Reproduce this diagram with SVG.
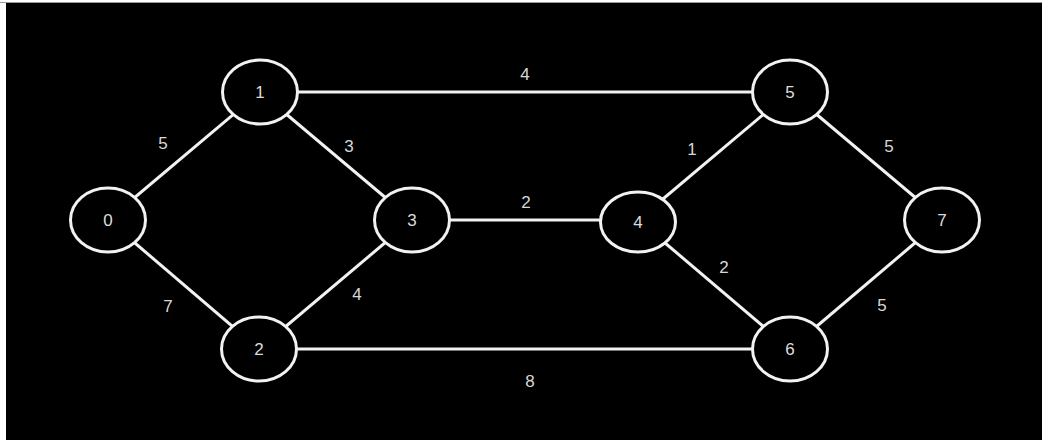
<svg xmlns="http://www.w3.org/2000/svg" width="1042" height="440" viewBox="0 0 1042 440">
<style>
.edge{stroke:#f2f2f2;stroke-width:3;fill:none}
.node ellipse{fill:#000;stroke:#f2f2f2;stroke-width:3}
.node text{fill:#dcdcdc;font-family:"Liberation Sans",Arial,sans-serif;font-size:17px;text-anchor:middle;dominant-baseline:central}
.w{fill:#d8d8d8;font-family:"Liberation Sans",Arial,sans-serif;font-size:17px;text-anchor:middle;dominant-baseline:central}
</style>
<rect x="0" y="0" width="1042" height="440" fill="#fff"/>
<rect x="0" y="2" width="1042" height="1" fill="#9a9a9a"/>
<rect x="6" y="3" width="1036" height="437" fill="#000"/>
<g id="edges">
<line class="edge" x1="108" y1="220" x2="260" y2="92"/>
<line class="edge" x1="108" y1="220" x2="259" y2="349"/>
<line class="edge" x1="260" y1="92" x2="412" y2="220"/>
<line class="edge" x1="259" y1="349" x2="412" y2="220"/>
<line class="edge" x1="260" y1="92" x2="790" y2="92"/>
<line class="edge" x1="259" y1="349" x2="790" y2="349"/>
<line class="edge" x1="412" y1="220" x2="638" y2="220"/>
<line class="edge" x1="638" y1="220" x2="790" y2="92"/>
<line class="edge" x1="638" y1="220" x2="790" y2="349"/>
<line class="edge" x1="790" y1="92" x2="942" y2="220"/>
<line class="edge" x1="790" y1="349" x2="942" y2="220"/>
<text class="w" x="163" y="143">5</text>
<text class="w" x="168" y="306">7</text>
<text class="w" x="349" y="146">3</text>
<text class="w" x="357" y="294">4</text>
<text class="w" x="525" y="74">4</text>
<text class="w" x="526" y="202">2</text>
<text class="w" x="530" y="381">8</text>
<text class="w" x="692" y="149">1</text>
<text class="w" x="724" y="267">2</text>
<text class="w" x="889" y="146">5</text>
<text class="w" x="882" y="305">5</text>
</g>
<g id="n0" class="node"><ellipse cx="108" cy="220" rx="37.5" ry="32"/><text x="108" y="220">0</text></g>
<g id="n1" class="node"><ellipse cx="260" cy="92" rx="37.5" ry="32"/><text x="260" y="92">1</text></g>
<g id="n2" class="node"><ellipse cx="259" cy="349" rx="37.5" ry="32"/><text x="259" y="349">2</text></g>
<g id="n3" class="node"><ellipse cx="412" cy="220" rx="37.5" ry="32"/><text x="412" y="220">3</text></g>
<g id="n4" class="node"><ellipse cx="638" cy="222" rx="37.5" ry="30"/><text x="638" y="222">4</text></g>
<g id="n5" class="node"><ellipse cx="790" cy="92" rx="37.5" ry="32"/><text x="790" y="92">5</text></g>
<g id="n6" class="node"><ellipse cx="790" cy="349" rx="37.5" ry="32"/><text x="790" y="349">6</text></g>
<g id="n7" class="node"><ellipse cx="942" cy="220" rx="37.5" ry="32"/><text x="942" y="220">7</text></g>
</svg>
